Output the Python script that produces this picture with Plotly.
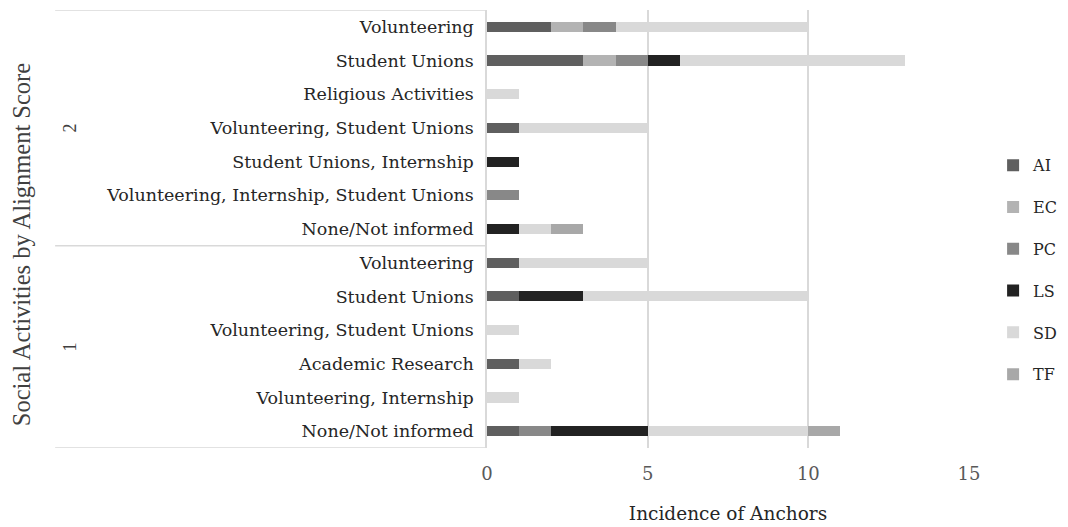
import plotly.graph_objects as go

# ---- data ----
groups = ["2", "2", "2", "2", "2", "2", "2", "1", "1", "1", "1", "1", "1"]
activities = [
    "Volunteering",
    "Student Unions",
    "Religious Activities",
    "Volunteering, Student Unions",
    "Student Unions, Internship",
    "Volunteering, Internship, Student Unions",
    "None/Not informed",
    "Volunteering",
    "Student Unions",
    "Volunteering, Student Unions",
    "Academic Research",
    "Volunteering, Internship",
    "None/Not informed",
]
AI = [2, 3, 0, 1, 0, 0, 0, 1, 1, 0, 1, 0, 1]
EC = [1, 1, 0, 0, 0, 0, 0, 0, 0, 0, 0, 0, 0]
PC = [1, 1, 0, 0, 0, 1, 0, 0, 0, 0, 0, 0, 1]
LS = [0, 1, 0, 0, 1, 0, 1, 0, 2, 0, 0, 0, 3]
SD = [6, 7, 1, 4, 0, 0, 1, 4, 7, 1, 1, 1, 5]
TF = [0, 0, 0, 0, 0, 0, 1, 0, 0, 0, 0, 0, 1]

series_names = ["AI", "EC", "PC", "LS", "SD", "TF"]
series_values = [AI, EC, PC, LS, SD, TF]
series_colors = ["#5f5f5f", "#b3b3b3", "#888888", "#222222", "#d9d9d9", "#a8a8a8"]

x_ticks = [0, 5, 10, 15]
x_title = "Incidence of Anchors"
y_title = "Social Activities by Alignment Score"

# ---- positions (row 0 at top) ----
n = len(activities)
ypos = [n - 1 - i for i in range(n)]

SERIF = "DejaVu Serif"
TIMES = "Liberation Serif"

fig = go.Figure()
for name, vals, col in zip(series_names, series_values, series_colors):
    fig.add_trace(go.Bar(
        name=name, x=vals, y=ypos, orientation="h",
        marker=dict(color=col, line=dict(width=0)),
        width=0.3, legendgroup=name,
    ))

# group dividers & labels
group_names = []
for g in groups:
    if g not in group_names:
        group_names.append(g)
bounds = [n - 0.5]
for g in group_names:
    idx = [ypos[i] for i in range(n) if groups[i] == g]
    lo, hi = min(idx), max(idx)
    bounds.append(lo - 0.5)
    fig.add_annotation(
        x=-0.866, xref="paper", y=(lo + hi) / 2, yref="y",
        xanchor="center", yanchor="middle",
        text=g, textangle=-90, showarrow=False,
        font=dict(family=TIMES, size=18, color="#404040"),
    )
for b in bounds:
    fig.add_shape(type="line", xref="paper", yref="y",
                  x0=-0.896, x1=0, y0=b, y1=b,
                  line=dict(color="#d9d9d9", width=1.5))

fig.add_annotation(
    x=-0.967, xref="paper", y=0.465, yref="paper",
    xanchor="center", yanchor="middle",
    text=y_title, textangle=-90, showarrow=False,
    font=dict(family=TIMES, size=24.5, color="#404040"),
)

fig.update_layout(
    width=1060, height=519,
    margin=dict(l=479, r=99, t=2, b=79, autoexpand=False),
    plot_bgcolor="white", paper_bgcolor="white",
    barmode="stack",
    showlegend=True,
    legend=dict(
        x=1.05, xanchor="left", y=0.407, yanchor="middle",
        traceorder="grouped", tracegroupgap=18,
        font=dict(family=SERIF, size=16, color="#262626"),
        itemwidth=30,
    ),
    xaxis=dict(
        range=[0, 15], tickvals=x_ticks, showgrid=True,
        gridcolor="#d9d9d9", gridwidth=1.5, zeroline=False,
        showline=False,
        tickfont=dict(family=SERIF, size=18, color="#595959"),
        ticklabelstandoff=13,
        title=dict(text=x_title, font=dict(family=SERIF, size=18.5, color="#262626"), standoff=24),
        ticks="",
    ),
    yaxis=dict(
        range=[-0.5, n - 0.5], tickvals=ypos, ticktext=activities,
        showgrid=False, zeroline=False,
        showline=True, linecolor="#d9d9d9", linewidth=1.5,
        tickfont=dict(family=SERIF, size=17.5, color="#262626"),
        ticks="", ticklabelstandoff=8,
    ),
)

fig.write_html("out.html")
